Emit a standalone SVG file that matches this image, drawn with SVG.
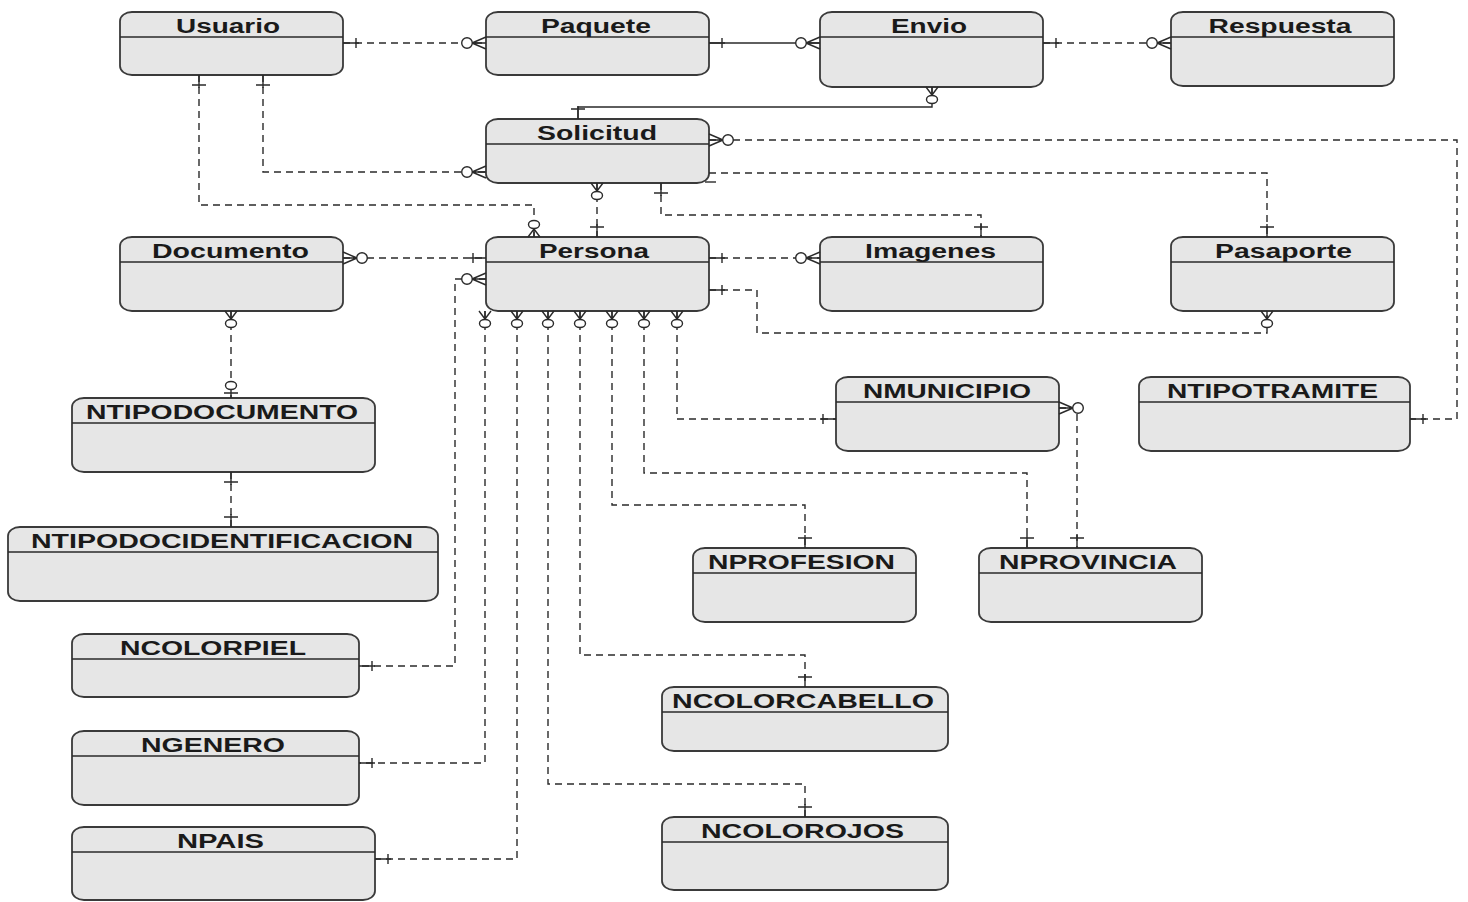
<svg xmlns="http://www.w3.org/2000/svg" width="1468" height="902" viewBox="0 0 1468 902">
<style>
.box{fill:#e6e6e6;stroke:#3a3a3a;stroke-width:1.8}
.hdr{stroke:#2a2a2a;stroke-width:1.4}
.t{font-family:"Liberation Sans",Arial,sans-serif;font-weight:bold;font-size:20px;fill:#1a1a1a;text-anchor:middle}
.c{fill:none;stroke:#2a2a2a;stroke-width:1.4}
.d{stroke-dasharray:7 5}
.m{fill:none;stroke:#2a2a2a;stroke-width:1.4}
.mc{fill:#fff;stroke:#2a2a2a;stroke-width:1.4}
</style>
<defs>
<marker id="oneH" markerUnits="userSpaceOnUse" orient="auto-start-reverse" refX="0" refY="0" markerWidth="1" markerHeight="1" style="overflow:visible"><path class="m" d="M-16,0H0M-13,-5V5"/></marker>
<marker id="oneV" markerUnits="userSpaceOnUse" orient="auto-start-reverse" refX="0" refY="0" markerWidth="1" markerHeight="1" style="overflow:visible"><path class="m" d="M-13,0H0M-10,-7V7"/></marker>
<marker id="manyH" markerUnits="userSpaceOnUse" orient="auto-start-reverse" refX="0" refY="0" markerWidth="1" markerHeight="1" style="overflow:visible"><path class="m" d="M-14,0H0M-14,0L0,-6M-14,0L0,6"/><circle class="mc" cx="-19" cy="0" r="5.3"/></marker>
<marker id="manyV" markerUnits="userSpaceOnUse" orient="auto-start-reverse" refX="0" refY="0" markerWidth="1" markerHeight="1" style="overflow:visible"><path class="m" d="M-8,0H0M-8,0L0,-6M-8,0L0,6"/><ellipse class="mc" cx="-12.5" cy="0" rx="4" ry="5.5"/></marker>
<marker id="zeroOneV" markerUnits="userSpaceOnUse" orient="auto-start-reverse" refX="0" refY="0" markerWidth="1" markerHeight="1" style="overflow:visible"><path class="m" d="M-9,0H0M-5,-7V7"/><ellipse class="mc" cx="-12.5" cy="0" rx="4" ry="5.5"/></marker>
</defs>
<rect width="1468" height="902" fill="#fff"/>

<g id="usuario"><rect class="box" x="120" y="12" width="223" height="63" rx="12" ry="9"/><line class="hdr" x1="120" y1="37" x2="343" y2="37"/><text class="t" x="228" y="33" textLength="104" lengthAdjust="spacingAndGlyphs">Usuario</text></g>
<g id="paquete"><rect class="box" x="486" y="12" width="223" height="63" rx="12" ry="9"/><line class="hdr" x1="486" y1="37" x2="709" y2="37"/><text class="t" x="596" y="33" textLength="110" lengthAdjust="spacingAndGlyphs">Paquete</text></g>
<g id="envio"><rect class="box" x="820" y="12" width="223" height="75" rx="12" ry="9"/><line class="hdr" x1="820" y1="37" x2="1043" y2="37"/><text class="t" x="929" y="33" textLength="76" lengthAdjust="spacingAndGlyphs">Envio</text></g>
<g id="respuesta"><rect class="box" x="1171" y="12" width="223" height="74" rx="12" ry="9"/><line class="hdr" x1="1171" y1="37" x2="1394" y2="37"/><text class="t" x="1280" y="33" textLength="143" lengthAdjust="spacingAndGlyphs">Respuesta</text></g>
<g id="solicitud"><rect class="box" x="486" y="119" width="223" height="64" rx="12" ry="9"/><line class="hdr" x1="486" y1="144" x2="709" y2="144"/><text class="t" x="597" y="140" textLength="120" lengthAdjust="spacingAndGlyphs">Solicitud</text></g>
<g id="documento"><rect class="box" x="120" y="237" width="223" height="74" rx="12" ry="9"/><line class="hdr" x1="120" y1="262" x2="343" y2="262"/><text class="t" x="230.5" y="258" textLength="157" lengthAdjust="spacingAndGlyphs">Documento</text></g>
<g id="persona"><rect class="box" x="486" y="237" width="223" height="74" rx="12" ry="9"/><line class="hdr" x1="486" y1="262" x2="709" y2="262"/><text class="t" x="594" y="258" textLength="110" lengthAdjust="spacingAndGlyphs">Persona</text></g>
<g id="imagenes"><rect class="box" x="820" y="237" width="223" height="74" rx="12" ry="9"/><line class="hdr" x1="820" y1="262" x2="1043" y2="262"/><text class="t" x="930.5" y="258" textLength="131" lengthAdjust="spacingAndGlyphs">Imagenes</text></g>
<g id="pasaporte"><rect class="box" x="1171" y="237" width="223" height="74" rx="12" ry="9"/><line class="hdr" x1="1171" y1="262" x2="1394" y2="262"/><text class="t" x="1283.5" y="258" textLength="137" lengthAdjust="spacingAndGlyphs">Pasaporte</text></g>
<g id="ntipodocumento"><rect class="box" x="72" y="398" width="303" height="74" rx="12" ry="9"/><line class="hdr" x1="72" y1="423" x2="375" y2="423"/><text class="t" x="222" y="419" textLength="272" lengthAdjust="spacingAndGlyphs">NTIPODOCUMENTO</text></g>
<g id="nmunicipio"><rect class="box" x="836" y="377" width="223" height="74" rx="12" ry="9"/><line class="hdr" x1="836" y1="402" x2="1059" y2="402"/><text class="t" x="947" y="398" textLength="168" lengthAdjust="spacingAndGlyphs">NMUNICIPIO</text></g>
<g id="ntipotramite"><rect class="box" x="1139" y="377" width="271" height="74" rx="12" ry="9"/><line class="hdr" x1="1139" y1="402" x2="1410" y2="402"/><text class="t" x="1272.5" y="398" textLength="211" lengthAdjust="spacingAndGlyphs">NTIPOTRAMITE</text></g>
<g id="ntipodocidentificacion"><rect class="box" x="8" y="527" width="430" height="74" rx="12" ry="9"/><line class="hdr" x1="8" y1="552" x2="438" y2="552"/><text class="t" x="222" y="548" textLength="382" lengthAdjust="spacingAndGlyphs">NTIPODOCIDENTIFICACION</text></g>
<g id="nprofesion"><rect class="box" x="693" y="548" width="223" height="74" rx="12" ry="9"/><line class="hdr" x1="693" y1="573" x2="916" y2="573"/><text class="t" x="801.5" y="569" textLength="187" lengthAdjust="spacingAndGlyphs">NPROFESION</text></g>
<g id="nprovincia"><rect class="box" x="979" y="548" width="223" height="74" rx="12" ry="9"/><line class="hdr" x1="979" y1="573" x2="1202" y2="573"/><text class="t" x="1088" y="569" textLength="178" lengthAdjust="spacingAndGlyphs">NPROVINCIA</text></g>
<g id="ncolorpiel"><rect class="box" x="72" y="634" width="287" height="63" rx="12" ry="9"/><line class="hdr" x1="72" y1="659" x2="359" y2="659"/><text class="t" x="213" y="655" textLength="186" lengthAdjust="spacingAndGlyphs">NCOLORPIEL</text></g>
<g id="ncolorcabello"><rect class="box" x="662" y="687" width="286" height="64" rx="12" ry="9"/><line class="hdr" x1="662" y1="712" x2="948" y2="712"/><text class="t" x="803" y="708" textLength="262" lengthAdjust="spacingAndGlyphs">NCOLORCABELLO</text></g>
<g id="ngenero"><rect class="box" x="72" y="731" width="287" height="74" rx="12" ry="9"/><line class="hdr" x1="72" y1="756" x2="359" y2="756"/><text class="t" x="213" y="752" textLength="144" lengthAdjust="spacingAndGlyphs">NGENERO</text></g>
<g id="ncolorojos"><rect class="box" x="662" y="817" width="286" height="73" rx="12" ry="9"/><line class="hdr" x1="662" y1="842" x2="948" y2="842"/><text class="t" x="802.5" y="838" textLength="203" lengthAdjust="spacingAndGlyphs">NCOLOROJOS</text></g>
<g id="npais"><rect class="box" x="72" y="827" width="303" height="73" rx="12" ry="9"/><line class="hdr" x1="72" y1="852" x2="375" y2="852"/><text class="t" x="220.5" y="848" textLength="87" lengthAdjust="spacingAndGlyphs">NPAIS</text></g>

<g id="connectors">
<path class="c d" d="M343,43H486" marker-start="url(#oneH)" marker-end="url(#manyH)"/>
<path class="c" d="M709,43H820" marker-start="url(#oneH)" marker-end="url(#manyH)"/>
<path class="c d" d="M1043,43H1171" marker-start="url(#oneH)" marker-end="url(#manyH)"/>
<path class="c" d="M932,87V107H578V119" marker-start="url(#manyV)" marker-end="url(#oneV)"/>
<path class="c d" d="M263,75V172H486" marker-start="url(#oneV)" marker-end="url(#manyH)"/>
<path class="c d" d="M199,75V205H534V237" marker-start="url(#oneV)" marker-end="url(#manyV)"/>
<path class="c d" d="M597,183V237" marker-start="url(#manyV)" marker-end="url(#oneV)"/>
<path class="c d" d="M661,183V215H981V237" marker-start="url(#oneV)" marker-end="url(#oneV)"/>
<path class="c d" d="M709,140H1457V419H1410" marker-start="url(#manyH)" marker-end="url(#oneH)"/>
<path class="c d" d="M709,173H1267V237" marker-end="url(#oneV)"/>
<line class="c" x1="705" y1="182" x2="716" y2="182"/>
<path class="c d" d="M709,258H820" marker-start="url(#oneH)" marker-end="url(#manyH)"/>
<path class="c d" d="M709,290H757V333H1267V311" marker-start="url(#oneH)" marker-end="url(#manyV)"/>
<path class="c d" d="M343,258H486" marker-start="url(#manyH)" marker-end="url(#oneH)"/>
<path class="c d" d="M486,279H455V666H359" marker-start="url(#manyH)" marker-end="url(#oneH)"/>
<path class="c d" d="M485,311V763H359" marker-start="url(#manyV)" marker-end="url(#oneH)"/>
<path class="c d" d="M517,311V859H375" marker-start="url(#manyV)" marker-end="url(#oneH)"/>
<path class="c d" d="M548,311V784H805V817" marker-start="url(#manyV)" marker-end="url(#oneV)"/>
<path class="c d" d="M580,311V655H805V687" marker-start="url(#manyV)" marker-end="url(#oneV)"/>
<path class="c d" d="M612,311V505H805V548" marker-start="url(#manyV)" marker-end="url(#oneV)"/>
<path class="c d" d="M644,311V473H1027V548" marker-start="url(#manyV)" marker-end="url(#oneV)"/>
<path class="c d" d="M677,311V419H836" marker-start="url(#manyV)" marker-end="url(#oneH)"/>
<path class="c d" d="M1059,408H1077V548" marker-start="url(#manyH)" marker-end="url(#oneV)"/>
<path class="c d" d="M231,311V398" marker-start="url(#manyV)" marker-end="url(#zeroOneV)"/>
<path class="c d" d="M231,472V527" marker-start="url(#oneV)" marker-end="url(#oneV)"/>
</g>
</svg>
